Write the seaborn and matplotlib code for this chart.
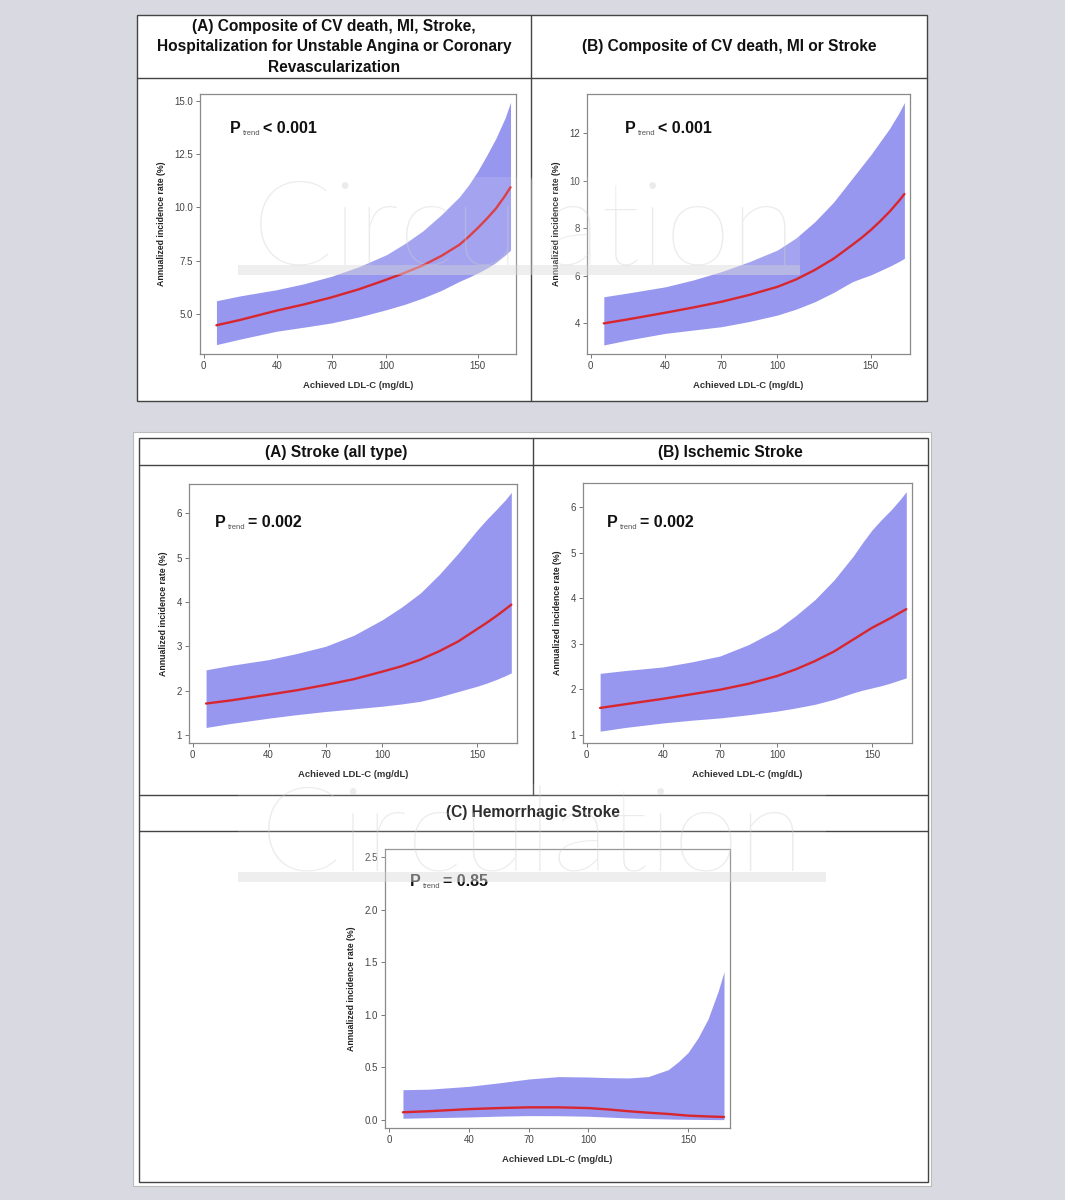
import numpy as np
import pandas as pd
import matplotlib.pyplot as plt
import seaborn as sns
from matplotlib.patches import Rectangle
from matplotlib.lines import Line2D
from matplotlib.ticker import FormatStrFormatter

# achieved LDL-C grid (mg/dL)
ldl = [7, 20, 40, 55, 70, 85, 100, 110, 120, 130, 140, 145, 150, 155, 160, 165, 168]

# (A) composite CV death, MI, stroke, UA hosp., coronary revasc.
comp_line = [4.47, 4.72, 5.16, 5.45, 5.78, 6.16, 6.61, 6.93, 7.28, 7.72, 8.25, 8.62, 9.03, 9.47, 9.95, 10.55, 10.95]
comp_upper = [5.62, 5.85, 6.14, 6.42, 6.77, 7.22, 7.78, 8.30, 8.90, 9.65, 10.5, 11.05, 11.7, 12.45, 13.25, 14.2, 14.94]
comp_lower = [3.56, 3.82, 4.19, 4.38, 4.58, 4.86, 5.20, 5.45, 5.75, 6.10, 6.53, 6.72, 6.92, 7.15, 7.42, 7.76, 8.00]

# (B) composite CV death, MI or stroke
mace_line = [4.00, 4.17, 4.45, 4.67, 4.91, 5.20, 5.54, 5.85, 6.25, 6.72, 7.30, 7.60, 7.93, 8.30, 8.70, 9.15, 9.45]
mace_upper = [5.12, 5.28, 5.54, 5.83, 6.18, 6.60, 7.09, 7.60, 8.28, 9.10, 10.1, 10.6, 11.1, 11.65, 12.2, 12.85, 13.3]
mace_lower = [3.09, 3.30, 3.58, 3.72, 3.86, 4.08, 4.35, 4.60, 4.91, 5.30, 5.75, 5.90, 6.04, 6.22, 6.40, 6.60, 6.74]

# stroke (all type)
stroke_line = [1.71, 1.78, 1.91, 2.01, 2.13, 2.26, 2.43, 2.55, 2.70, 2.89, 3.11, 3.25, 3.39, 3.53, 3.68, 3.84, 3.94]
stroke_upper = [2.47, 2.57, 2.70, 2.84, 3.00, 3.25, 3.60, 3.88, 4.20, 4.62, 5.10, 5.36, 5.62, 5.86, 6.08, 6.31, 6.47]
stroke_lower = [1.17, 1.26, 1.38, 1.46, 1.53, 1.59, 1.65, 1.70, 1.76, 1.86, 1.98, 2.04, 2.10, 2.17, 2.25, 2.34, 2.40]

# ischemic stroke
isch_line = [1.59, 1.67, 1.79, 1.89, 1.99, 2.12, 2.29, 2.44, 2.62, 2.83, 3.09, 3.22, 3.35, 3.46, 3.57, 3.69, 3.76]
isch_upper = [2.35, 2.41, 2.49, 2.60, 2.73, 2.98, 3.31, 3.62, 3.97, 4.40, 4.92, 5.22, 5.50, 5.73, 5.94, 6.18, 6.34]
isch_lower = [1.08, 1.16, 1.26, 1.32, 1.37, 1.44, 1.52, 1.59, 1.67, 1.78, 1.92, 1.98, 2.03, 2.08, 2.14, 2.21, 2.25]

# hemorrhagic stroke
hem_line = [0.07, 0.08, 0.10, 0.11, 0.117, 0.117, 0.11, 0.097, 0.08, 0.066, 0.054, 0.046, 0.038, 0.034, 0.03, 0.027, 0.025]
hem_upper = [0.285, 0.29, 0.317, 0.35, 0.387, 0.41, 0.406, 0.40, 0.397, 0.41, 0.476, 0.55, 0.64, 0.78, 0.96, 1.22, 1.41]
hem_lower = [0.013, 0.018, 0.025, 0.033, 0.038, 0.037, 0.032, 0.024, 0.016, 0.01, 0.006, 0.004, 0.003, 0.002, 0.001, 0.0, 0.0]

xticks = [0, 40, 70, 100, 150]

BAND = '#9797ef'
RED = '#d8262e'
W, H = 1065, 1200

sns.set_style('white')
plt.rcParams['font.family'] = ['Liberation Sans', 'DejaVu Sans']

fig = plt.figure(figsize=(W / 100, H / 100), dpi=100)
fig.patch.set_facecolor('#d9d9e1')


def px_rect(x0, y0, x1, y1):
    return [x0 / W, 1 - y1 / H, (x1 - x0) / W, (y1 - y0) / H]


def box(x0, y0, x1, y1, **kw):
    l, b, w, h = px_rect(x0, y0, x1, y1)
    fig.add_artist(Rectangle((l, b), w, h, transform=fig.transFigure, **kw))


def seg(x0, y0, x1, y1):
    fig.add_artist(Line2D([x0 / W, x1 / W], [1 - y0 / H, 1 - y1 / H],
                          transform=fig.transFigure, color='#444444', lw=1, zorder=-1))


# white blocks and grid lines
box(137, 15, 927, 401, facecolor='white', edgecolor='#444444', lw=1, zorder=-2)
seg(137, 78, 927, 78)
seg(531, 15, 531, 401)

box(133, 432, 931, 1186, facecolor='white', edgecolor='#bbbbbb', lw=0.8, zorder=-3)
box(139, 438, 928, 1182, facecolor='white', edgecolor='#444444', lw=1, zorder=-2)
seg(139, 465, 928, 465)
seg(533, 438, 533, 795)
seg(139, 795, 928, 795)
seg(139, 831, 928, 831)

hdr = dict(fontsize=11.2, fontweight='bold', ha='center', va='center', color='#111111')
fig.text(334 / W, 1 - 47 / H,
         '(A) Composite of CV death, MI, Stroke,\nHospitalization for Unstable Angina or Coronary\nRevascularization',
         linespacing=1.45, **hdr)
fig.text(729 / W, 1 - 47 / H, '(B) Composite of CV death, MI or Stroke', **hdr)
fig.text(336 / W, 1 - 452 / H, '(A) Stroke (all type)', **hdr)
fig.text(730 / W, 1 - 452 / H, '(B) Ischemic Stroke', **hdr)
fig.text(533 / W, 1 - 813 / H, '(C) Hemorrhagic Stroke', **hdr)


def panel(rect, line, upper, lower, ylim, yticks, yfmt, pval, ppos):
    ax = fig.add_axes(px_rect(*rect))
    ax.fill_between(ldl, lower, upper, color=BAND, lw=0)
    df = pd.DataFrame({'ldl': ldl, 'rate': line})
    sns.lineplot(data=df, x='ldl', y='rate', ax=ax, color=RED, lw=1.7)
    ax.set_xlim(-2, 171)
    ax.set_ylim(*ylim)
    ax.set_xticks(xticks)
    ax.set_yticks(yticks)
    ax.yaxis.set_major_formatter(FormatStrFormatter(yfmt))
    for s in ax.spines.values():
        s.set_color('#8a8a8a')
        s.set_linewidth(0.9)
    ax.tick_params(axis='both', direction='out', length=3, width=0.7, color='#777777',
                   labelsize=7, labelcolor='#444444', pad=2,
                   bottom=True, left=True)
    ax.set_xlabel('Achieved LDL-C (mg/dL)', fontsize=6.8, fontweight='bold', color='#333333', labelpad=7)
    ax.set_ylabel('Annualized incidence rate (%)', fontsize=6.3, fontweight='bold', color='#222222', labelpad=6)
    # P_trend annotation
    t1 = fig.text(ppos[0] / W, 1 - ppos[1] / H, 'P', fontsize=11.5, fontweight='bold', color='#111111')
    t2 = ax.annotate('trend', xy=(1, 0), xycoords=t1, xytext=(1.5, -0.5), textcoords='offset points',
                     fontsize=5.5, color='#555555', va='bottom', ha='left')
    ax.annotate(pval, xy=(1, 0), xycoords=(t2, t1), xytext=(2, 0), textcoords='offset points',
                fontsize=11.5, fontweight='bold', color='#111111', va='bottom', ha='left')
    return ax


panel((200, 94, 516, 354), comp_line, comp_upper, comp_lower, (3.12, 15.33),
      [5, 7.5, 10, 12.5, 15], '%.1f', '< 0.001', (230, 133))
panel((587, 94, 910, 354), mace_line, mace_upper, mace_lower, (2.71, 13.66),
      [4, 6, 8, 10, 12], '%d', '< 0.001', (625, 133))
panel((189, 484, 517, 743), stroke_line, stroke_upper, stroke_lower, (0.82, 6.66),
      [1, 2, 3, 4, 5, 6], '%d', '= 0.002', (215, 527))
panel((583, 483, 912, 743), isch_line, isch_upper, isch_lower, (0.82, 6.53),
      [1, 2, 3, 4, 5, 6], '%d', '= 0.002', (607, 527))
panel((385, 849, 730, 1128), hem_line, hem_upper, hem_lower, (-0.08, 2.58),
      [0, 0.5, 1.0, 1.5, 2.0, 2.5], '%.1f', '= 0.85', (410, 886))

# journal watermark
for cx, base, x0, x1 in [(524, 265, 238, 800), (532, 872, 238, 826)]:
    box(x0, base - 88, x1, base + 10, facecolor='white', alpha=0.12, lw=0, zorder=4)
    box(x0, base, x1, base + 10, facecolor='#d6d6d6', alpha=0.4, lw=0, zorder=4)
    fig.text(cx / W, 1 - base / H, 'Circulation', fontsize=86, family=['Lato', 'DejaVu Sans'],
             fontweight='light', color='#cfcfcf', alpha=0.4, ha='center', va='baseline', zorder=5)

fig.savefig('out.png', dpi=100, facecolor=fig.get_facecolor())
